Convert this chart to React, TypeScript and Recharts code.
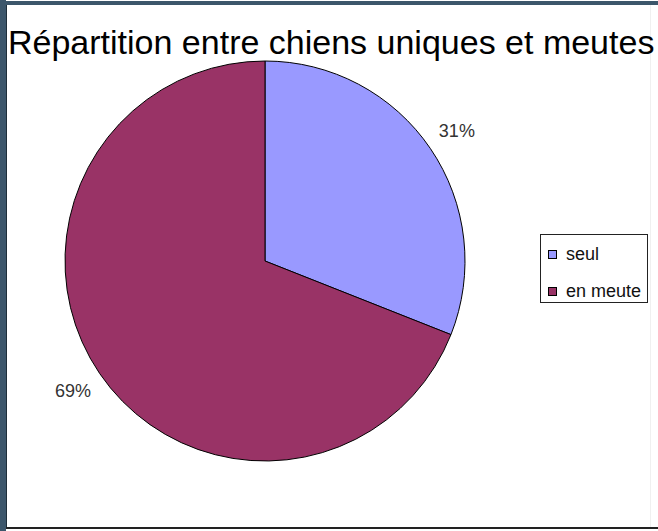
import React from 'react';
import { PieChart, Pie, Cell } from 'recharts';

const categories = ['seul', 'en meute'];
const values = [31, 69];
const labels = ['31%', '69%'];
const colors = ['#9999ff', '#993366'];
const title = 'Répartition entre chiens uniques et meutes';

const data = categories.map((name, i) => ({ name, value: values[i], label: labels[i] }));

const RAD = Math.PI / 180;

const renderLabel = (props: any) => {
  const { cx, cy, midAngle, outerRadius, index } = props;
  const r = outerRadius + 32;
  const x = cx + r * Math.cos(-midAngle * RAD);
  const y = cy + r * Math.sin(-midAngle * RAD);
  return (
    <text
      x={x}
      y={y}
      fill="#333333"
      textAnchor="middle"
      dominantBaseline="central"
      fontFamily="'Liberation Sans', Arial, sans-serif"
      fontSize={18}
    >
      {data[index].label}
    </text>
  );
};

export default function App() {
  return (
    <div
      style={{
        position: 'absolute',
        left: 0,
        top: 0,
        width: 658,
        height: 531,
        background: '#ffffff',
        overflow: 'hidden',
      }}
    >
      {/* frame */}
      <div style={{ position: 'absolute', left: 0, top: 0, width: 6, height: 531, background: '#3c566b' }} />
      <div style={{ position: 'absolute', left: 0, top: 1, width: 658, height: 4, background: '#3c566b' }} />
      <div style={{ position: 'absolute', left: 6, top: 5, width: 1, height: 522, background: '#1e2e3a' }} />
      <div style={{ position: 'absolute', left: 6, top: 527, width: 652, height: 2, background: '#222222' }} />
      <div style={{ position: 'absolute', left: 650, top: 5, width: 1, height: 522, background: '#f0f0f0' }} />

      <div style={{ position: 'absolute', left: 0, top: 0 }}>
        <PieChart width={658} height={531} margin={{ top: 0, right: 0, bottom: 0, left: 0 }}>
          <Pie
            data={data}
            dataKey="value"
            nameKey="name"
            cx={265}
            cy={261}
            outerRadius={200}
            startAngle={90}
            endAngle={-270}
            stroke="#000000"
            strokeWidth={1}
            label={renderLabel}
            labelLine={false}
            isAnimationActive={false}
          >
            {data.map((d, i) => (
              <Cell key={d.name} fill={colors[i]} />
            ))}
          </Pie>
        </PieChart>
      </div>

      <div
        style={{
          position: 'absolute',
          left: 8,
          top: 22,
          fontFamily: "'Liberation Sans', Arial, sans-serif",
          fontSize: 34,
          lineHeight: '40px',
          color: '#000000',
          whiteSpace: 'nowrap',
        }}
      >
        {title}
      </div>

      <div
        style={{
          position: 'absolute',
          left: 540,
          top: 234,
          width: 106,
          height: 67,
          border: '1px solid #222222',
          background: '#ffffff',
          fontFamily: "'Liberation Sans', Arial, sans-serif",
          fontSize: 18,
          color: '#111111',
        }}
      >
        {data.map((d, i) => (
          <div
            key={d.name}
            style={{ position: 'absolute', left: 7, top: 9 + i * 37, height: 20, display: 'flex', alignItems: 'center' }}
          >
            <div style={{ width: 7, height: 7, background: colors[i], border: '1px solid #000', marginRight: 9 }} />
            <span style={{ whiteSpace: 'nowrap' }}>{d.name}</span>
          </div>
        ))}
      </div>
    </div>
  );
}
